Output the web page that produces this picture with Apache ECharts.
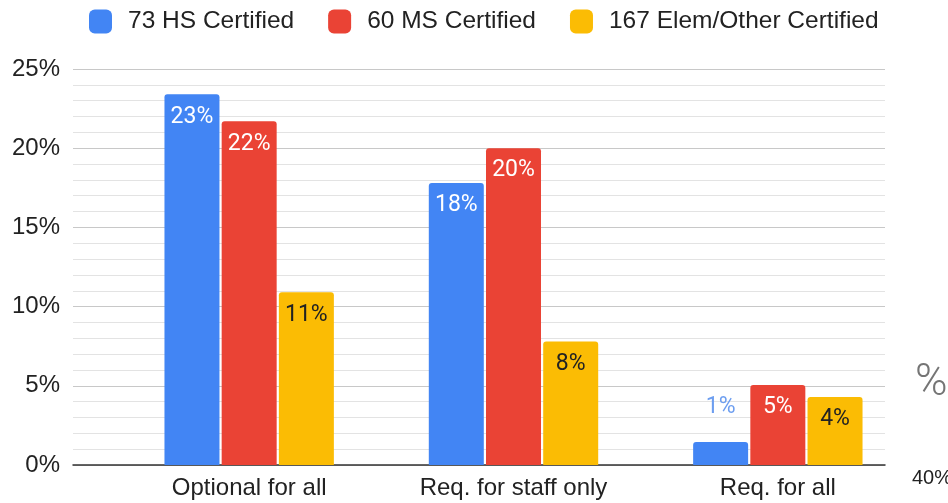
<!DOCTYPE html>
<html>
<head>
<meta charset="utf-8">
<script src="https://cdn.jsdelivr.net/npm/echarts@6/dist/echarts.min.js"></script>
<style>
  html, body { margin: 0; padding: 0; background: #fff; }
  #chart { width: 948px; height: 503px; }
</style>
</head>
<body>
<div id="chart"></div>
<script>
const categories = ['Optional for all', 'Req. for staff only', 'Req. for all'];
const seriesNames = ['73 HS Certified', '60 MS Certified', '167 Elem/Other Certified'];
const hsValues = [23.4, 17.8, 1.45];
const msValues = [21.7, 20.0, 5.05];
const elemValues = [10.9, 7.8, 4.3];
const colors = ['#4285F4', '#EA4335', '#FBBC04'];

const pct = (p) => Math.round(p.value) + '%';

// small bars get the label above, in a lighter tone
const toItems = (vals, labelColor, aboveColor) => vals.map(v => {
  if (v < 3) {
    return { value: v, label: { position: 'top', distance: 23, color: aboveColor } };
  }
  return { value: v, label: { color: labelColor } };
});

const barLabel = {
  show: true,
  position: 'insideTop',
  distance: 11,
  fontFamily: 'Roboto',
  fontSize: 23,
  formatter: pct
};

const makeBar = (name, vals, i, labelColor, aboveColor) => ({
  name: name,
  type: 'bar',
  xAxisIndex: 1,
  yAxisIndex: 1,
  barWidth: 55,
  barGap: '4%',
  itemStyle: { color: colors[i], borderRadius: [3, 3, 0, 0] },
  label: barLabel,
  data: toItems(vals, labelColor, aboveColor)
});

const chart = echarts.init(document.getElementById('chart'));
chart.setOption({
  animation: false,
  backgroundColor: '#fff',
  textStyle: { fontFamily: 'Liberation Sans, Arial, sans-serif' },
  legend: {
    top: 9,
    left: 89,
    padding: 0,
    itemGap: 34,
    itemWidth: 23,
    itemHeight: 24,
    icon: 'roundRect',
    textStyle: { fontFamily: 'Liberation Sans', fontSize: 24.5, color: '#222', padding: [2, 0, 0, 11] },
    data: seriesNames
  },
  grid: [
    { left: 73, right: 63, top: 69, bottom: 38 },
    { left: 117, right: 38, top: 69, bottom: 38 }
  ],
  xAxis: [
    {
      gridIndex: 0,
      type: 'category',
      data: [''],
      axisLine: { show: true, lineStyle: { color: '#333', width: 1.5 } },
      axisTick: { show: false },
      axisLabel: { show: false }
    },
    {
      gridIndex: 1,
      type: 'category',
      data: categories,
      axisLine: { show: false },
      axisTick: { show: false },
      axisLabel: { fontFamily: 'Liberation Sans', fontSize: 24, color: '#222', margin: 11 }
    }
  ],
  yAxis: [
    {
      gridIndex: 0,
      type: 'value',
      min: 0,
      max: 25,
      interval: 5,
      axisLine: { show: false },
      axisTick: { show: false },
      axisLabel: { formatter: '{value}%', fontFamily: 'Liberation Sans', fontSize: 24, color: '#222', margin: 13 },
      splitLine: { lineStyle: { color: '#c8c8c8', width: 1 } },
      minorTick: { show: false, splitNumber: 5 },
      minorSplitLine: { show: true, lineStyle: { color: '#e3e3e3', width: 1 } }
    },
    {
      gridIndex: 1,
      type: 'value',
      min: 0,
      max: 25,
      interval: 5,
      show: false,
      splitLine: { show: false }
    }
  ],
  graphic: [
    {
      type: 'text',
      left: 915,
      top: 362,
      style: { text: '%', fontFamily: 'Roboto', fontWeight: 300, fontSize: 44, fill: '#757575' }
    },
    {
      type: 'text',
      left: 912,
      top: 468,
      style: { text: '40%', fontFamily: 'Liberation Sans', fontSize: 20, fill: '#222' }
    }
  ],
  series: [
    makeBar(seriesNames[0], hsValues, 0, '#fff', '#6d9ef0'),
    makeBar(seriesNames[1], msValues, 1, '#fff', '#fff'),
    makeBar(seriesNames[2], elemValues, 2, '#222', '#222')
  ]
});
</script>
</body>
</html>
